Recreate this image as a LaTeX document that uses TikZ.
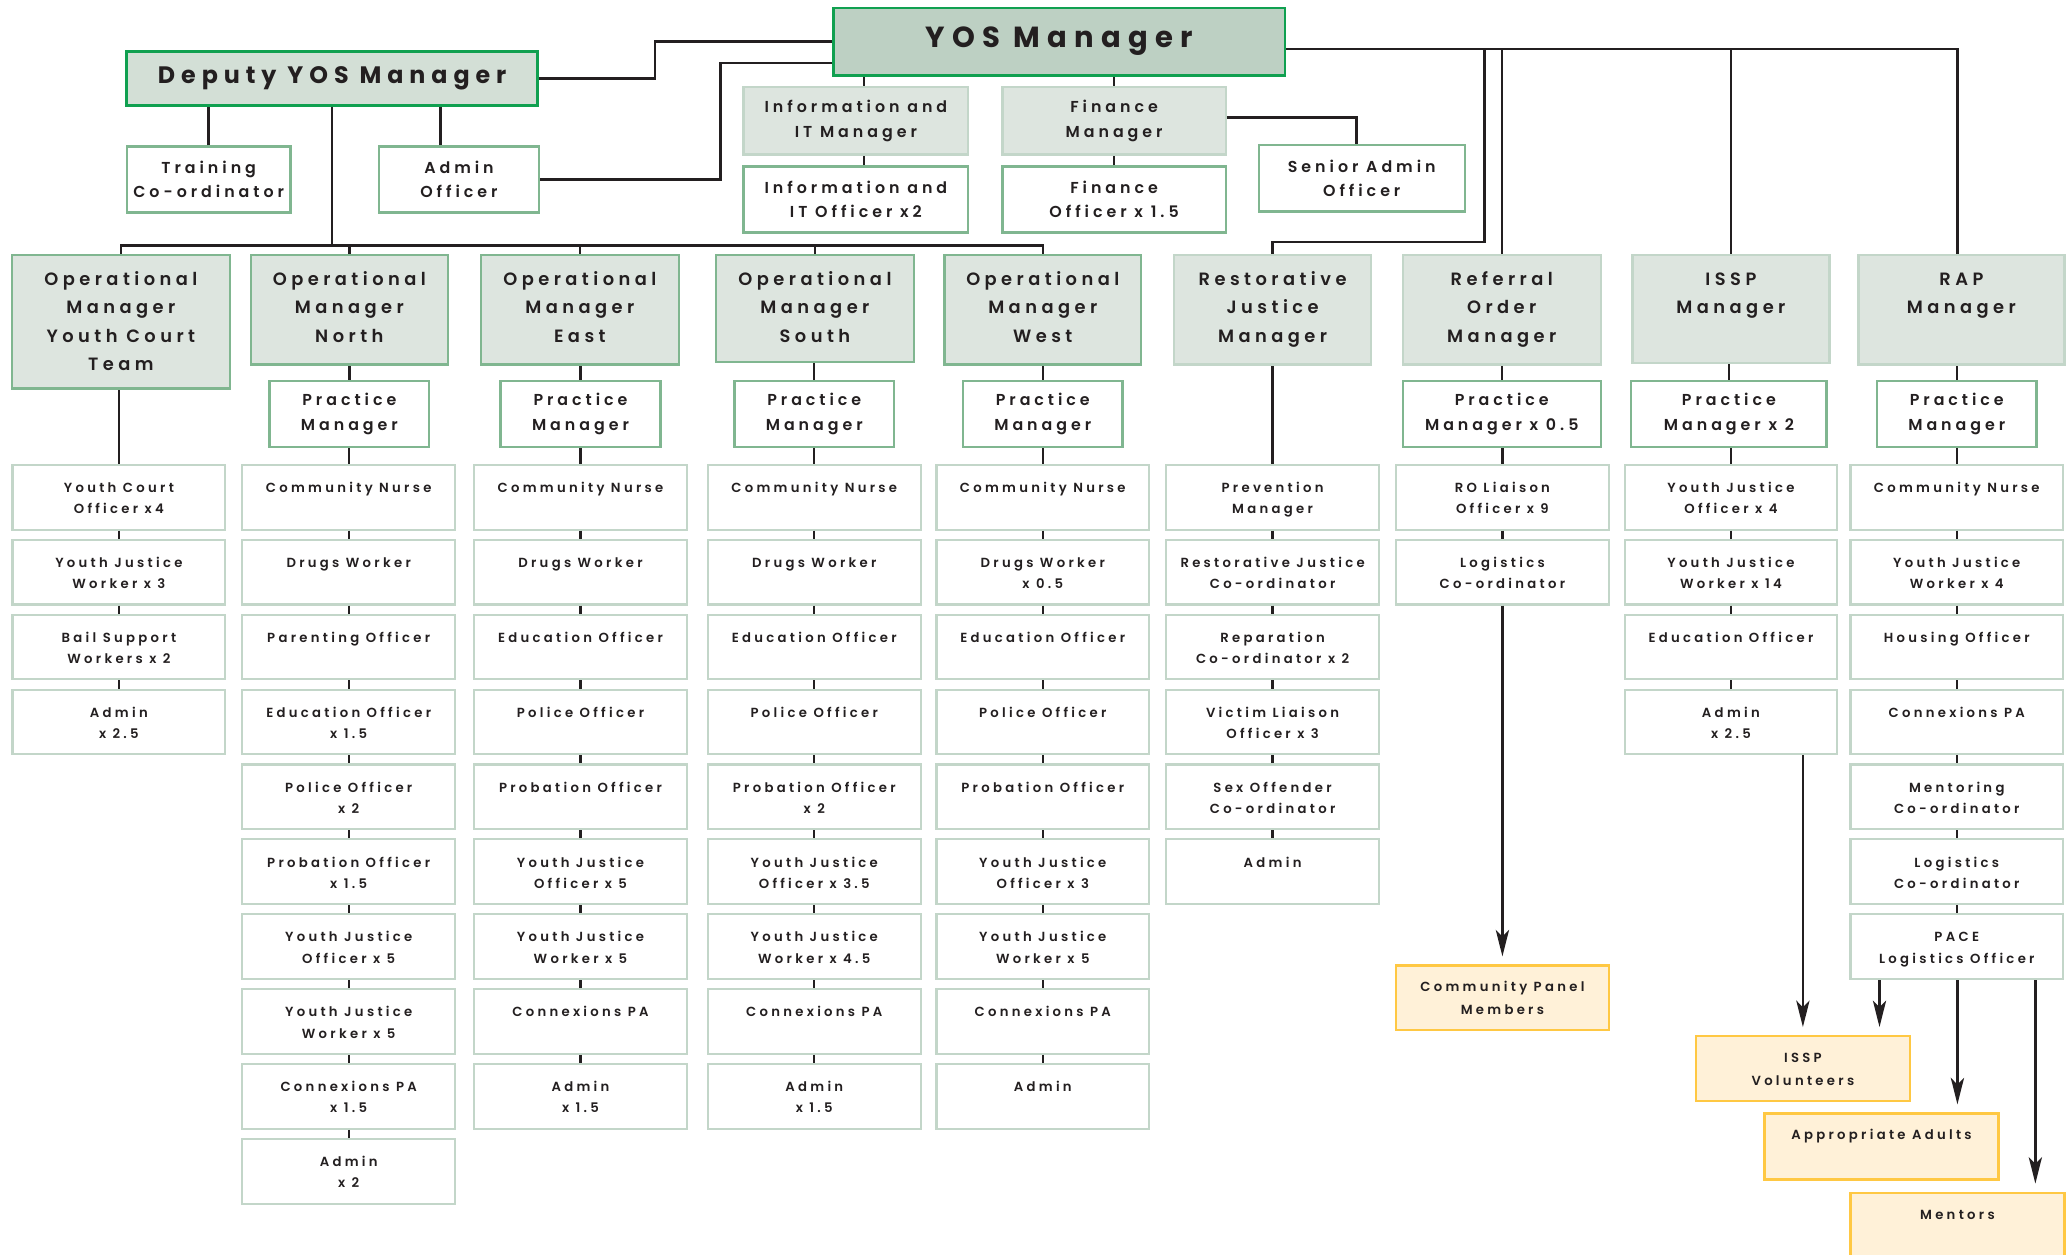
\documentclass[tikz,border=0pt]{standalone}
\usepackage{fontspec}
\newfontfamily\chartfont{Poppins}[LetterSpace=25,UprightFont=* SemiBold,BoldFont=* Bold]
\usetikzlibrary{arrows.meta}
\definecolor{ink}{HTML}{231F20}
\definecolor{dkgreen}{HTML}{10A050}
\definecolor{midedge}{HTML}{80B690}
\definecolor{ltedge}{HTML}{C3D6C9}
\definecolor{yosfill}{HTML}{BDD0C3}
\definecolor{depfill}{HTML}{D3DFD6}
\definecolor{mgrfill}{HTML}{DDE5DF}
\definecolor{yfill}{HTML}{FFF1D8}
\definecolor{yedge}{HTML}{FFC843}
% top aligned text: width, height, first baseline, text
\newcommand\topline[4]{\parbox[c][#2pt][t]{#1pt}{\centering\rule{0pt}{#3pt}#4}}
\newcommand\stf[1]{\topline{161}{49}{21}{#1}}
\tikzset{
  every node/.style={inner sep=0pt, text=ink},
  link/.style={line width=1.8pt, draw=ink},
  arr/.style={line width=2pt, draw=ink, -{Stealth[length=20pt,width=10pt,inset=5pt]}, shorten >=6pt},
  yosbox/.style={draw=dkgreen, fill=yosfill, line width=2pt, minimum width=342, minimum height=51,
    font=\chartfont\bfseries\fontsize{22}{26}\selectfont},
  depbox/.style={draw=dkgreen, fill=depfill, line width=2pt, minimum width=311, minimum height=41,
    font=\chartfont\bfseries\fontsize{18}{20}\selectfont},
  mgrbox/.style={draw=ltedge, fill=mgrfill, line width=1.8pt, minimum height=51, align=center,
    font=\chartfont\fontsize{12}{18.5}\selectfont},
  postbox/.style={draw=midedge, fill=white, line width=1.8pt, minimum height=50, align=center,
    font=\chartfont\fontsize{12}{18.5}\selectfont},
  opbox/.style={draw=#1, fill=mgrfill, line width=1.8pt, font=\chartfont\fontsize{13.5}{21.5}\selectfont},
  opbox/.default=midedge,
  staff/.style={draw=ltedge, fill=white, line width=1.6pt, font=\chartfont\fontsize{10}{16}\selectfont},
  volbox/.style={draw=yedge, fill=yfill, line width=1.8pt, font=\chartfont\fontsize{10}{17}\selectfont}
}
% one column of staff boxes, linked top to bottom
\newcommand\staffcol[3]{%
  \foreach \t [count=\i] in {#3}
    \node[staff] (#1\i) at (#2,{376.5+(\i-1)*56.7}) {\stf{\t}};
  \foreach \t [count=\i, remember=\i as \j (initially 0)] in {#3}
    {\ifnum\i>1 \draw[link] (#1\j.south) -- (#1\i.north);\fi}
}
\begin{document}
\begin{tikzpicture}[x=1pt,y=-1pt]
\useasboundingbox (0,0) rectangle (1568,950);
% head office
\node[yosbox] (yos) at (802,31.5) {YOS Manager};
\node[depbox] (dep) at (251.5,59.5) {Deputy YOS Manager};
\node[postbox, minimum width=124] (train) at (158,136) {Training\\Co-ordinator};
\node[postbox, minimum width=121] (admoff) at (347.5,136) {Admin\\Officer};
\node[mgrbox, minimum width=170] (infomgr) at (648,91.5) {Information and\\IT Manager};
\node[postbox, minimum width=170] (infooff) at (648,151) {Information and\\IT Officer x2};
\node[mgrbox, minimum width=169] (finmgr) at (843.5,91.5) {Finance\\Manager};
\node[postbox, minimum width=169] (finoff) at (843.5,151) {Finance\\Officer x 1.5};
\node[postbox, minimum width=156] (senadm) at (1031,135) {Senior Admin\\Officer};
\draw[link] (yos.west) -- ++(-134,0) |- (dep.east);
\draw[link] ([yshift=-16pt]yos.west) -- ++(-84.5,0) |- (admoff.east);
\draw[link] (train.north) -- (train.north |- dep.south);
\draw[link] ([xshift=-14pt]admoff.north) -- ([xshift=-14pt]admoff.north |- dep.south);
\draw[link] ([xshift=6pt]infomgr.north) -- ([xshift=6pt]infomgr.north |- yos.south);
\draw[link] ([xshift=6pt]infooff.north) -- ([xshift=6pt]infomgr.south);
\draw[link] (finmgr.north) -- (finmgr.north |- yos.south);
\draw[link] (finoff.north) -- (finmgr.south);
\draw[link] ([yshift=2.5pt]finmgr.east) -| ([xshift=-4pt]senadm.north);

% managers
\node[opbox] (omyc) at (91.5,243.5) {\topline{165}{101}{23}{Operational\\Manager\\Youth Court\\Team}};
\node[opbox] (omn) at (264.5,234.5) {\topline{149}{83}{23}{Operational\\Manager\\North}};
\node[opbox] (ome) at (439,234.5) {\topline{150}{83}{23}{Operational\\Manager\\East}};
\node[opbox] (oms) at (617,233.5) {\topline{150}{81}{23}{Operational\\Manager\\South}};
\node[opbox] (omw) at (789.5,234.5) {\topline{149}{83}{23}{Operational\\Manager\\West}};
\node[opbox=ltedge] (rj) at (963.5,234.5) {\topline{149}{83}{23}{Restorative\\Justice\\Manager}};
\node[opbox=ltedge] (ro) at (1137,234.5) {\topline{150}{83}{23}{Referral\\Order\\Manager}};
\node[opbox=ltedge] (issp) at (1310.5,234) {\topline{149}{82}{23}{ISSP\\Manager}};
\node[opbox=ltedge] (rap) at (1485,234.5) {\topline{156}{83}{23}{RAP\\Manager}};
\coordinate (obus) at (0,186);
\draw[link] (dep.south) -- (dep.south |- obus);
\draw[link] (omyc.north) -- (omyc.north |- obus) -- (omw.north |- obus) -- (omw.north);
\foreach \m in {omn,ome,oms} \draw[link] (\m.north) -- (\m.north |- obus);
\coordinate (rbus) at ([yshift=-5.5pt]yos.east);
\draw[link] (rbus) -| ([xshift=-3pt]rap.north);
\draw[link] (ro.north) -- (ro.north |- rbus);
\draw[link] (issp.north) -- (issp.north |- rbus);
\coordinate (rjturn) at (1124,183);
\draw[link] (rjturn |- rbus) -- (rjturn) -| (rj.north);

% practice managers
\node[postbox, minimum width=121] (pn) at (264.5,313.5) {Practice\\Manager};
\node[postbox, minimum width=121] (pe) at (439.5,313.5) {Practice\\Manager};
\node[postbox, minimum width=121] (ps) at (616.5,313.5) {Practice\\Manager};
\node[postbox, minimum width=121] (pw) at (789.5,313.5) {Practice\\Manager};
\node[postbox, minimum width=150] (pro) at (1137,313.5) {Practice\\Manager x 0.5};
\node[postbox, minimum width=148] (pis) at (1309,313.5) {Practice\\Manager x 2};
\node[postbox, minimum width=121] (prap) at (1481.5,313.5) {Practice\\Manager};
\draw[link] (pn.north) -- (pn.north |- omn.south);
\draw[link] (pe.north) -- (pe.north |- ome.south);
\draw[link] (ps.north) -- (ps.north |- oms.south);
\draw[link] (pw.north) -- (pw.north |- omw.south);
\draw[link] (pro.north) -- (pro.north |- ro.south);
\draw[link] (pis.north) -- (pis.north |- issp.south);
\draw[link] (prap.north) -- (prap.north |- rap.south);

% staff
\staffcol{yc}{90}{{Youth Court\\Officer x4},{Youth Justice\\Worker x 3},{Bail Support\\Workers x 2},{Admin\\x 2.5}}
\staffcol{n}{264}{{Community Nurse},{Drugs Worker},{Parenting Officer},{Education Officer\\x 1.5},{Police Officer\\x 2},{Probation Officer\\x 1.5},{Youth Justice\\Officer x 5},{Youth Justice\\Worker x 5},{Connexions PA\\x 1.5},{Admin\\x 2}}
\staffcol{e}{439.5}{{Community Nurse},{Drugs Worker},{Education Officer},{Police Officer},{Probation Officer},{Youth Justice\\Officer x 5},{Youth Justice\\Worker x 5},{Connexions PA},{Admin\\x 1.5}}
\staffcol{s}{616.5}{{Community Nurse},{Drugs Worker},{Education Officer},{Police Officer},{Probation Officer\\x 2},{Youth Justice\\Officer x 3.5},{Youth Justice\\Worker x 4.5},{Connexions PA},{Admin\\x 1.5}}
\staffcol{w}{789.5}{{Community Nurse},{Drugs Worker\\x 0.5},{Education Officer},{Police Officer},{Probation Officer},{Youth Justice\\Officer x 3},{Youth Justice\\Worker x 5},{Connexions PA},{Admin}}
\staffcol{rj}{963.5}{{Prevention\\Manager},{Restorative Justice\\Co-ordinator},{Reparation\\Co-ordinator x 2},{Victim Liaison\\Officer x 3},{Sex Offender\\Co-ordinator},{Admin}}
\staffcol{ro}{1137.5}{{RO Liaison\\Officer x 9},{Logistics\\Co-ordinator}}
\staffcol{is}{1310.5}{{Youth Justice\\Officer x 4},{Youth Justice\\Worker x 14},{Education Officer},{Admin\\x 2.5}}
\staffcol{rp}{1481.5}{{Community Nurse},{Youth Justice\\Worker x 4},{Housing Officer},{Connexions PA},{Mentoring\\Co-ordinator},{Logistics\\Co-ordinator},{PACE\\Logistics Officer}}
\draw[link] (yc1.north) -- (yc1.north |- omyc.south);
\foreach \c/\p in {n/pn,e/pe,s/ps,w/pw,ro/pro,is/pis,rp/prap}
  \draw[link] (\c1.north) -- (\c1.north |- \p.south);
\draw[link] (rj1.north) -- (rj1.north |- rj.south);

% volunteers
\node[volbox] (cpm) at (1137.5,755.5) {\topline{161}{49}{20}{Community Panel\\Members}};
\node[volbox] (vol) at (1365,809) {\topline{162}{49}{20}{ISSP\\Volunteers}};
\node[volbox] (aa) at (1424.5,868) {\topline{177}{50}{20}{Appropriate Adults}};
\node[volbox] (ment) at (1482,927) {\topline{162}{48}{20}{Mentors}};
\draw[arr] (ro2.south) -- (cpm.north);
\draw[arr] ([xshift=54.5pt]is4.south) -- ([xshift=54.5pt]is4.south |- vol.north);
\draw[arr] ([xshift=-58.5pt]rp7.south) -- ([xshift=-58.5pt]rp7.south |- vol.north);
\draw[arr] ([xshift=0.5pt]rp7.south) -- ([xshift=0.5pt]rp7.south |- aa.north);
\draw[arr] ([xshift=59.5pt]rp7.south) -- ([xshift=59.5pt]rp7.south |- ment.north);
\end{tikzpicture}
\end{document}
